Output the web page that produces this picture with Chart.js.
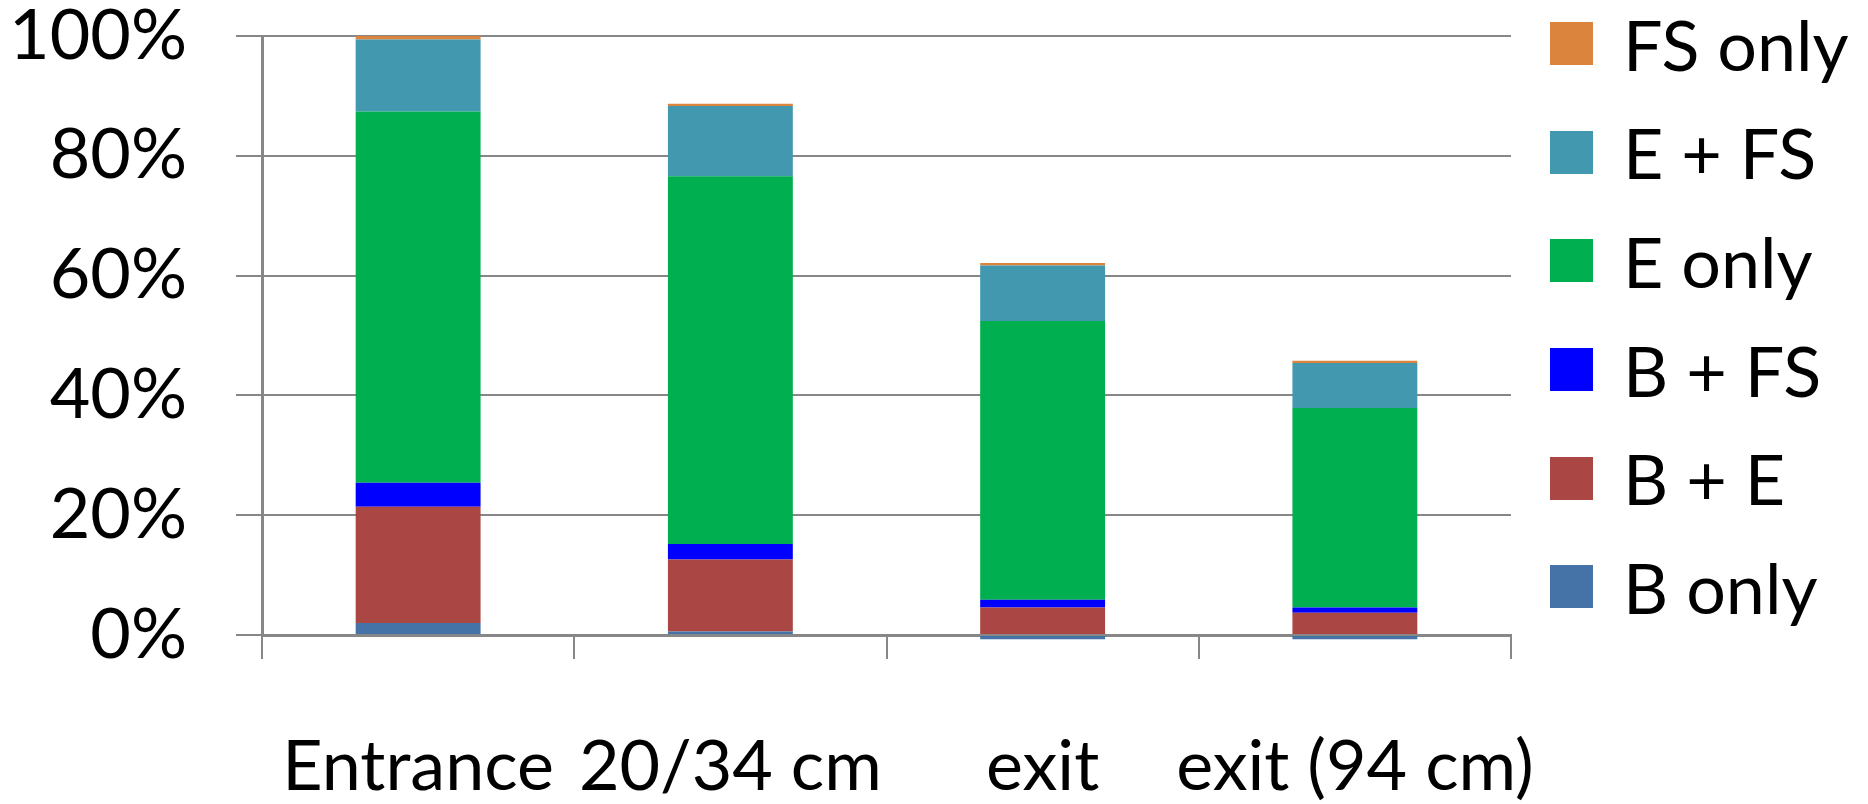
<!DOCTYPE html>
<html>
<head>
<meta charset="utf-8">
<title>Stacked bar chart</title>
<script src="https://cdn.jsdelivr.net/npm/chart.js@4/dist/chart.umd.min.js"></script>
<style>
  html, body { margin: 0; padding: 0; background: #ffffff; }
  #wrap { position: relative; width: 1868px; height: 804px; overflow: hidden; }
  #chart { position: absolute; left: 0; top: 0; }
  #legend { position: absolute; left: 0; top: 0; width: 1868px; height: 804px; pointer-events: none;
            font-family: Lato, "Noto Sans", sans-serif; font-size: 70px; color: #000; }
  .item { position: absolute; left: 1550px; height: 70px; line-height: 70px; display: flex; align-items: center; white-space: nowrap; }
  .swatch { width: 43px; height: 43px; margin-right: 30px; flex: none; }
</style>
</head>
<body>
<div id="wrap">
  <canvas id="chart" width="1868" height="804"></canvas>
  <div id="legend"></div>
</div>
<script>
// Categories along the x axis
const categories = ['Entrance', '20/34 cm', 'exit', 'exit (94 cm)'];

// Share of each group, in percent (stacked from the bottom up)
const bOnly   = [2.0, 0.6, -0.7, -0.7];
const bPlusE  = [19.4, 12.0, 4.6, 3.7];
const bPlusFS = [4.0, 2.6, 1.3, 0.9];
const eOnly   = [62.0, 61.4, 46.5, 33.3];
const ePlusFS = [12.0, 11.7, 9.3, 7.5];
const fsOnly  = [0.6, 0.4, 0.4, 0.4];

// Value axis ticks
const yTicks = [0, 20, 40, 60, 80, 100];

const seriesNames  = ['B only', 'B + E', 'B + FS', 'E only', 'E + FS', 'FS only'];
const seriesValues = [bOnly, bPlusE, bPlusFS, eOnly, ePlusFS, fsOnly];
const seriesColors = ['#4572A7', '#AA4643', '#0000FF', '#00B050', '#4198AF', '#DB843D'];

const axisGray = '#878787';

function build() {
  Chart.defaults.font.family = 'Lato, "Noto Sans", sans-serif';
  Chart.defaults.color = '#000000';

  const datasets = seriesNames.map((name, i) => ({
    label: name,
    data: seriesValues[i],
    backgroundColor: seriesColors[i],
    borderWidth: 0,
    barPercentage: 0.4,
    categoryPercentage: 1.0,
    clip: false
  }));

  const chart = new Chart(document.getElementById('chart'), {
    type: 'bar',
    data: { labels: categories, datasets },
    options: {
      responsive: false,
      animation: false,
      layout: { padding: { top: 36, right: 357, bottom: 0, left: 0 } },
      plugins: {
        legend: { display: false },
        tooltip: { enabled: false }
      },
      scales: {
        x: {
          stacked: true,
          z: 1,
          grid: {
            offset: true,
            drawOnChartArea: false,
            drawTicks: true,
            tickLength: 24,
            color: axisGray,
            lineWidth: 2
          },
          border: { display: true, color: axisGray, width: 3 },
          ticks: {
            font: { size: 70 },
            padding: 66,
            maxRotation: 0,
            autoSkip: false
          },
          afterFit: s => { s.height = 169; }
        },
        y: {
          stacked: true,
          min: 0,
          max: 100,
          afterBuildTicks: s => { s.ticks = yTicks.map(v => ({ value: v })); },
          grid: {
            color: axisGray,
            lineWidth: 2,
            drawTicks: true,
            tickLength: 26
          },
          border: { display: true, color: axisGray, width: 3 },
          ticks: {
            font: { size: 70 },
            padding: 49,
            callback: v => v + '%'
          },
          afterFit: s => { s.width = 262; s.paddingTop = 0; s.paddingBottom = 0; }
        }
      }
    }
  });

  // Legend: top series first, matching the stacking order seen from above
  const legend = document.getElementById('legend');
  const rowGap = 108.6;
  const firstCenter = 43.7;
  chart.data.datasets.slice().reverse().forEach((ds, i) => {
    const row = document.createElement('div');
    row.className = 'item';
    row.style.top = (firstCenter + i * rowGap - 35) + 'px';
    const sw = document.createElement('span');
    sw.className = 'swatch';
    sw.style.background = ds.backgroundColor;
    const tx = document.createElement('span');
    tx.textContent = ds.label;
    row.appendChild(sw);
    row.appendChild(tx);
    legend.appendChild(row);
  });
}

if (document.fonts && document.fonts.load) {
  document.fonts.load('70px Lato').then(build, build);
} else {
  build();
}
</script>
</body>
</html>
